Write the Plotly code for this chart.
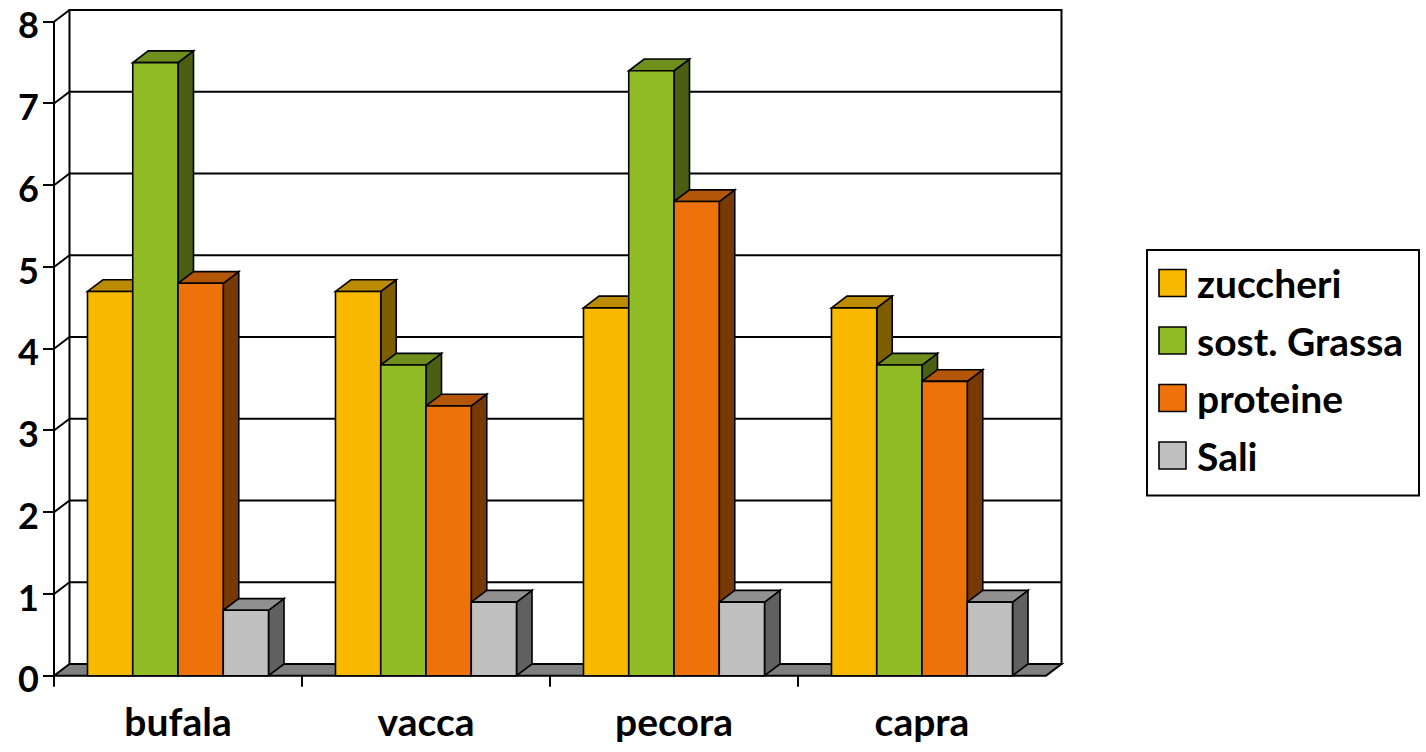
import plotly.graph_objects as go

# ---------------- data ----------------
categories = ["bufala", "vacca", "pecora", "capra"]
series_names = ["zuccheri", "sost. Grassa", "proteine", "Sali"]
zuccheri = [4.7, 4.7, 4.5, 4.5]
sost_grassa = [7.5, 3.8, 7.4, 3.8]
proteine = [4.8, 3.3, 5.8, 3.6]
sali = [0.8, 0.9, 0.9, 0.9]
y_tick_values = [0, 1, 2, 3, 4, 5, 6, 7, 8]

series_values = [zuccheri, sost_grassa, proteine, sali]

# ---------------- styles ----------------
front_colors = ["#F9B800", "#92BC26", "#EE720A", "#C0C0C0"]
top_colors = ["#BC8B00", "#6E8E1D", "#B35608", "#909090"]
side_colors = ["#7D5D00", "#4A5F13", "#783A05", "#606060"]
floor_color = "#808080"
FONT = "Lato"
LW = 2

# ---------------- layout geometry (pixels) ----------------
W, H = 1426, 752
ML, MR, MT, MB = 44, 354, 4, 60
PW, PH = W - ML - MR, H - MT - MB
front_left_px, front_right_px = 54, 1046
zero_px, top_px = 675.7, 21.7
ymax = 8
n_cat = len(categories)
px_per_cat = (front_right_px - front_left_px) / n_cat
px_per_unit = (zero_px - top_px) / ymax

xr0 = -0.5 - (front_left_px - ML) / px_per_cat
xr1 = n_cat - 0.5 + ((W - MR) - front_right_px) / px_per_cat
yr0 = -((MT + PH) - zero_px) / px_per_unit
yr1 = ymax + (top_px - MT) / px_per_unit

# depth offset of the 3D effect
ddx = 15.5 / px_per_cat
ddy = 11.7 / px_per_unit

bargap = 0.27
n_ser = len(series_values)
bw = (1 - bargap) / n_ser

xl, xr = -0.5, n_cat - 0.5

shapes = []


def path(points):
    return "M" + " L".join(f"{x:.5f},{y:.5f}" for x, y in points) + " Z"


# back wall
shapes.append(dict(type="rect", xref="x", yref="y", layer="below",
                   x0=xl + ddx, x1=xr + ddx, y0=ddy, y1=ymax + ddy,
                   fillcolor="white", line=dict(color="black", width=LW)))
# gridlines on back wall + side wall diagonals
for v in y_tick_values[1:]:
    shapes.append(dict(type="line", xref="x", yref="y", layer="below",
                       x0=xl + ddx, x1=xr + ddx, y0=v + ddy, y1=v + ddy,
                       line=dict(color="black", width=LW)))
    shapes.append(dict(type="line", xref="x", yref="y", layer="below",
                       x0=xl, x1=xl + ddx, y0=v, y1=v + ddy,
                       line=dict(color="black", width=LW)))
# floor
shapes.append(dict(type="path", xref="x", yref="y", layer="below",
                   path=path([(xl, 0), (xr, 0), (xr + ddx, ddy), (xl + ddx, ddy)]),
                   fillcolor=floor_color, line=dict(color="black", width=LW)))
# front value axis line
shapes.append(dict(type="line", xref="x", yref="y", layer="below",
                   x0=xl, x1=xl, y0=0, y1=ymax,
                   line=dict(color="black", width=LW)))
# category boundary ticks
tick_len = 11 / px_per_unit
for k in range(n_cat):
    b = k - 0.5
    shapes.append(dict(type="line", xref="x", yref="y", layer="below",
                       x0=b, x1=b, y0=0, y1=-tick_len,
                       line=dict(color="black", width=LW)))

# 3D side + top faces of every bar
for k in range(n_cat):
    for i in range(n_ser):
        v = series_values[i][k]
        l = k - (1 - bargap) / 2 + i * bw
        r = l + bw
        shapes.append(dict(type="path", xref="x", yref="y", layer="below",
                           path=path([(r, 0), (r, v), (r + ddx, v + ddy), (r + ddx, ddy)]),
                           fillcolor=side_colors[i], line=dict(color="black", width=1.6)))
        shapes.append(dict(type="path", xref="x", yref="y", layer="below",
                           path=path([(l, v), (r, v), (r + ddx, v + ddy), (l + ddx, v + ddy)]),
                           fillcolor=top_colors[i], line=dict(color="black", width=1.6)))

fig = go.Figure()
for i in range(n_ser):
    fig.add_trace(go.Bar(
        x=categories, y=series_values[i], name=series_names[i],
        marker=dict(color=front_colors[i], line=dict(color="black", width=1.6)),
        showlegend=False,
    ))

# ---------------- custom legend ----------------
def paper_x(px):
    return (px - ML) / PW


def paper_y(py):
    return (MT + PH - py) / PH


leg_box = (1147, 250, 1419, 495.5)
shapes.append(dict(type="rect", xref="paper", yref="paper",
                   x0=paper_x(leg_box[0]), x1=paper_x(leg_box[2]),
                   y0=paper_y(leg_box[3]), y1=paper_y(leg_box[1]),
                   fillcolor="white", line=dict(color="black", width=LW)))
annotations = []
row_y0, row_step, sq = 283, 57.5, 27
for i, name in enumerate(series_names):
    cy = row_y0 + i * row_step
    shapes.append(dict(type="rect", xref="paper", yref="paper",
                       x0=paper_x(1159), x1=paper_x(1159 + sq),
                       y0=paper_y(cy + sq / 2), y1=paper_y(cy - sq / 2),
                       fillcolor=front_colors[i], line=dict(color="black", width=1.6)))
    annotations.append(dict(xref="paper", yref="paper", x=paper_x(1195), y=paper_y(cy),
                            xanchor="left", yanchor="middle", showarrow=False,
                            text=name, font=dict(family=FONT, size=39, color="black", weight=700)))

fig.update_layout(
    width=W, height=H,
    margin=dict(l=ML, r=MR, t=MT, b=MB, autoexpand=False),
    paper_bgcolor="white", plot_bgcolor="white",
    barmode="group", bargap=bargap, bargroupgap=0,
    shapes=shapes, annotations=annotations,
    showlegend=False,
    xaxis=dict(type="category", range=[xr0, xr1], anchor="free",
               position=(0 - yr0) / (yr1 - yr0),
               showgrid=False, zeroline=False, showline=False, ticks="",
               ticklabelstandoff=20, ticklabeloverflow="allow",
               tickfont=dict(family=FONT, size=39, color="black", weight=700)),
    yaxis=dict(range=[yr0, yr1], anchor="free",
               position=(xl - xr0) / (xr1 - xr0),
               tickvals=y_tick_values,
               showgrid=False, zeroline=False, showline=False,
               ticks="outside", ticklen=11, tickwidth=LW, tickcolor="black",
               ticklabelstandoff=-3, ticklabelshift=4, ticklabeloverflow="allow",
               tickfont=dict(family=FONT, size=36, color="black", weight=700)),
)

fig.write_html("out.html")
